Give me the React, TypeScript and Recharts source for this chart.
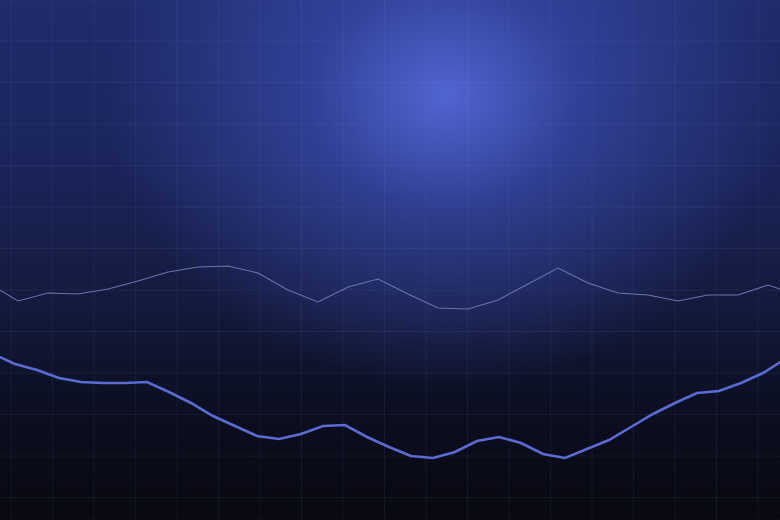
import { LineChart, Line, XAxis, YAxis, CartesianGrid } from 'recharts';

// lower (bold) line, one point every step (height above the bottom edge)
const lowerValues = [
  166, 156, 150, 142, 138, 137, 137, 138, 128, 117, 104, 94, 84, 81, 86, 94, 95, 83,
  73, 64, 62, 68, 79, 83, 77, 66, 62, 71, 80, 93, 106, 117, 127, 129, 137, 147, 161,
];

// upper (thin) line, wider step
const upperValues = [
  237, 219, 227, 226, 231, 239, 248, 253, 254, 247, 230, 218, 233, 241, 226, 212,
  211, 220, 236, 252, 237, 227, 225, 219, 225, 225, 235, 225,
];

const gridColumns = [0, 1, 2, 3, 4, 5, 6, 7, 8, 9, 10, 11, 12, 13, 14, 15, 16, 17, 18];
const gridRows = [0, 1, 2, 3, 4, 5, 6, 7, 8, 9, 10, 11];
const gridColDomain = [-0.265, 18.53];

const lowerData = lowerValues.map((v, i) => ({ i, v }));
const upperData = upperValues.map((v, i) => ({ i, v }));

const WIDTH = 780;
const HEIGHT = 520;

// eslint-disable-next-line @typescript-eslint/no-explicit-any
function gridVerticals(props: any): number[] {
  const scale = props?.xAxis?.scale;
  if (scale && typeof scale === 'function') {
    const pts = gridColumns.map((c) => scale(c));
    if (pts.every((p) => Number.isFinite(p))) return pts;
  }
  const w = props?.width ?? WIDTH;
  const [d0, d1] = gridColDomain;
  return gridColumns.map((c) => ((c - d0) / (d1 - d0)) * w);
}

export default function App() {
  return (
    <div
      style={{
        position: 'absolute',
        left: 0,
        top: 0,
        width: WIDTH,
        height: HEIGHT,
        overflow: 'hidden',
        background:
          'radial-gradient(ellipse 340px 290px at 445px 95px, rgba(84,104,216,0.95) 0%, rgba(62,80,182,0.6) 40%, rgba(40,52,130,0) 100%),' +
          'linear-gradient(180deg, #1f2b6c 0%, #1b255c 30%, #131a3d 58%, #0c0f22 78%, #08080f 100%)',
      }}
    >
      <LineChart width={WIDTH} height={HEIGHT} margin={{ top: 0, right: 0, bottom: 0, left: 0 }}>
        <XAxis xAxisId="grid" type="number" hide domain={gridColDomain} ticks={gridColumns} allowDataOverflow />
        <YAxis yAxisId="grid" type="number" hide reversed domain={[-0.988, 11.542]} ticks={gridRows} allowDataOverflow />
        <CartesianGrid
          xAxisId="grid"
          yAxisId="grid"
          verticalCoordinatesGenerator={gridVerticals}
          stroke="rgba(150,165,235,0.08)"
          strokeWidth={1}
        />
        <XAxis xAxisId="lower" dataKey="i" type="number" hide domain={[0.318, 35.773]} allowDataOverflow />
        <XAxis xAxisId="upper" dataKey="i" type="number" hide domain={[0.4, 26.4]} allowDataOverflow />
        <YAxis yAxisId="v" type="number" hide domain={[0, 520]} allowDataOverflow />
        <Line
          data={upperData}
          xAxisId="upper"
          yAxisId="v"
          dataKey="v"
          type="linear"
          stroke="#6a72b0"
          strokeWidth={1.1}
          dot={false}
          activeDot={false}
          isAnimationActive={false}
        />
        <Line
          data={lowerData}
          xAxisId="lower"
          yAxisId="v"
          dataKey="v"
          type="linear"
          stroke="#5b6bd2"
          strokeWidth={2.6}
          dot={false}
          activeDot={false}
          isAnimationActive={false}
        />
      </LineChart>
    </div>
  );
}
